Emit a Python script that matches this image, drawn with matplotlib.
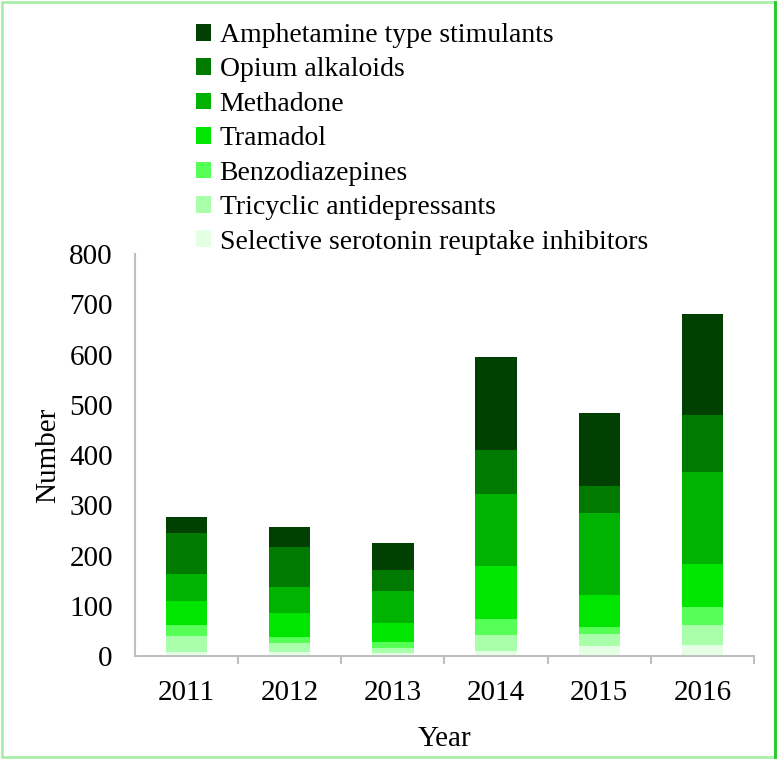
import numpy as np
import matplotlib
matplotlib.use('Agg')
from matplotlib import pyplot as plt
from matplotlib.patches import Rectangle

# Data
years = ['2011', '2012', '2013', '2014', '2015', '2016']
series = ['Selective serotonin reuptake inhibitors', 'Tricyclic antidepressants',
          'Benzodiazepines', 'Tramadol', 'Methadone', 'Opium alkaloids',
          'Amphetamine type stimulants']
ssri = [7, 8, 6, 10, 20, 21]
tca = [33, 17, 9, 31, 24, 41]
benzo = [22, 13, 13, 32, 14, 36]
tramadol = [47, 48, 38, 106, 63, 86]
methadone = [55, 52, 64, 143, 163, 183]
opium = [80, 79, 42, 88, 55, 112]
ats = [32, 40, 53, 185, 144, 201]

colors = ['#e5ffe5', '#aaffaa', '#55ff55', '#00e600', '#00b300', '#007a00', '#004000']

plt.rcParams['font.family'] = ['Liberation Serif', 'DejaVu Serif']
plt.rcParams['font.size'] = 21

fig = plt.figure(figsize=(7.78, 7.6), dpi=100)
ax = fig.add_axes([135/778, 104/760, 619/778, 402/760])

x = np.arange(len(years))
bottom = np.zeros(len(years))
handles = []
for vals, col, name in zip([ssri, tca, benzo, tramadol, methadone, opium, ats], colors, series):
    b = ax.bar(x, vals, width=0.4, bottom=bottom, color=col, label=name)
    handles.append(b)
    bottom += np.array(vals)

ax.set_xlim(-0.5, len(years) - 0.5)
ax.set_ylim(0, 800)
ax.set_yticks(range(0, 801, 100))
ax.set_xticks(x)
ax.set_xticklabels(years)
ax.set_xticks(np.arange(0.5, len(years), 1), minor=True)
ax.tick_params(axis='x', which='major', length=0, pad=17)
ax.tick_params(axis='x', which='minor', length=6, color='#bfbfbf', width=1.5)
ax.tick_params(axis='y', length=0, pad=16)
for s in ['top', 'right']:
    ax.spines[s].set_visible(False)
for s in ['left', 'bottom']:
    ax.spines[s].set_color('#bfbfbf')
    ax.spines[s].set_linewidth(1.5)
ax.set_xlabel('Year', labelpad=15)
ax.set_ylabel('Number', labelpad=6)

fig.legend(handles[::-1], series[::-1], loc='upper left', bbox_to_anchor=(196/778, 1 - 23/760),
           frameon=False, handlelength=0.55, handleheight=0.55, handletextpad=0.3,
           labelspacing=0.34, borderaxespad=0, borderpad=0, fontsize=20)

# light green frame around the picture
fig.patches.append(Rectangle((0.002, 0.004), 0.994, 0.993, transform=fig.transFigure,
                             fill=False, edgecolor='#aaeeaa', linewidth=2))
fig.lines.append(plt.Line2D([0.996, 0.996], [0.004, 0.997], transform=fig.transFigure,
                            color='#22cc22', linewidth=2))

fig.savefig('out.png', dpi=100)
